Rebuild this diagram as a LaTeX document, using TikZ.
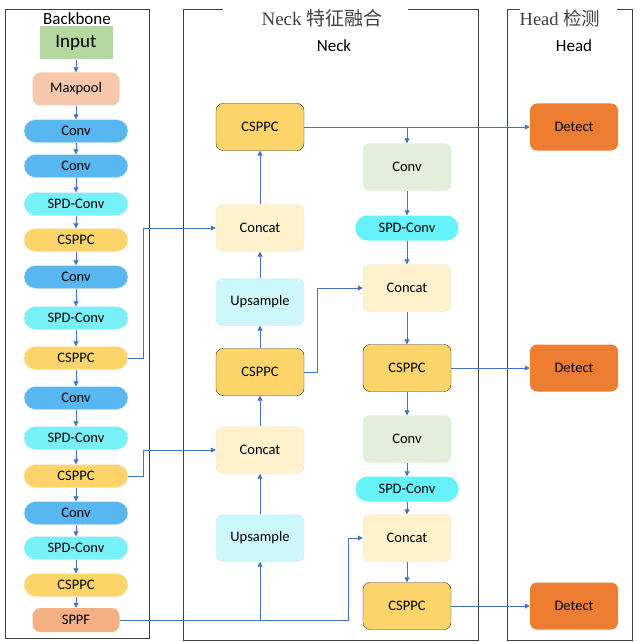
\documentclass[tikz,border=0pt]{standalone}
\usepackage{fontspec}
\setmainfont{Carlito}
\newfontfamily\titlefont{Liberation Serif}
\newfontfamily\cjk{Noto Sans CJK SC}
\definecolor{lnblue}{RGB}{68,114,196}
\definecolor{ingreen}{RGB}{181,215,160}
\definecolor{mpsalmon}{RGB}{247,200,170}
\definecolor{sppfsalmon}{RGB}{244,175,130}
\definecolor{cvblue}{RGB}{88,182,240}
\definecolor{spdcyan}{RGB}{120,240,248}
\definecolor{cspyellow}{RGB}{252,212,105}
\definecolor{ccream}{RGB}{255,242,204}
\definecolor{upcyan}{RGB}{204,248,252}
\definecolor{ncgreen}{RGB}{226,239,218}
\definecolor{detorange}{RGB}{237,125,49}
\usetikzlibrary{arrows.meta,positioning}

\begin{document}
\begin{tikzpicture}[x=1pt,y=-1pt,
  box/.style={inner sep=0pt,font=\fontsize{14.5}{16}\selectfont},
  pill/.style={box,rounded corners=11.5pt,minimum width=104pt,minimum height=23pt,draw=black!8},
  blk/.style={box,rounded corners=7pt,minimum width=88pt,minimum height=47pt},
  arr/.style={lnblue,line width=0.8pt,-{Triangle[length=5pt,width=5pt]}},
  frame/.style={draw=black!75,line width=0.9pt}]
  \useasboundingbox (0,0) rectangle (643,642);
  % frames and titles
  \draw[frame] (5,9) rectangle (149,638);
  \draw[frame] (223,9) -- (183,9) -- (183,640) -- (478,640) -- (478,9) -- (408,9);
  \draw[frame] (520,9) -- (507,9) -- (507,640) -- (632,640) -- (632,9) -- (617,9);
  \node[font=\fontsize{17}{19}\selectfont] (bbt) at (77,19) {Backbone};
  \node[font=\titlefont\fontsize{19}{21}\selectfont,text=black!75] (nkt) at (322,18) {Neck {\cjk 特征融合}};
  \node[font=\titlefont\fontsize{18.5}{20}\selectfont,text=black!75] (hdt) at (560,18) {Head {\cjk 检测}};
  \node[font=\fontsize{17}{19}\selectfont] (nks) at (334,46) {Neck};
  \node[font=\fontsize{17}{19}\selectfont] (hds) at (574,46) {Head};

  % backbone
  \node[box,fill=ingreen,minimum width=73pt,minimum height=33pt,font=\fontsize{19}{21}\selectfont] (in) at (76,43) {Input};
  \node[box,fill=mpsalmon,rounded corners=8pt,minimum width=87pt,minimum height=33pt] (mp) at (76,89) {Maxpool};
  \node[pill,fill=cvblue] (b1) at (76,131) {Conv};
  \node[pill,fill=cvblue] (b2) at (76,166) {Conv};
  \node[pill,fill=spdcyan] (b3) at (76,204) {SPD-Conv};
  \node[pill,fill=cspyellow] (b4) at (76,240) {CSPPC};
  \node[pill,fill=cvblue] (b5) at (76,277) {Conv};
  \node[pill,fill=spdcyan] (b6) at (76,318) {SPD-Conv};
  \node[pill,fill=cspyellow] (b7) at (76,358) {CSPPC};
  \node[pill,fill=cvblue] (b8) at (76,398) {Conv};
  \node[pill,fill=spdcyan] (b9) at (76,438) {SPD-Conv};
  \node[pill,fill=cspyellow] (b10) at (76,476) {CSPPC};
  \node[pill,fill=cvblue] (b11) at (76,513) {Conv};
  \node[pill,fill=spdcyan] (b12) at (76,548) {SPD-Conv};
  \node[pill,fill=cspyellow] (b13) at (76,585) {CSPPC};
  \node[box,fill=sppfsalmon,rounded corners=8pt,minimum width=87pt,minimum height=24pt] (sppf) at (76,620) {SPPF};
  \foreach \a/\b in {in/mp,mp/b1,b1/b2,b2/b3,b3/b4,b4/b5,b5/b6,b6/b7,b7/b8,b8/b9,b9/b10,b10/b11,b11/b12,b12/b13,b13/sppf}
    \draw[arr] (\a) -- (\b);

  % neck, upward path
  \node[blk,fill=cspyellow,draw=black!80] (lcs1) at (260,127) {CSPPC};
  \node[blk,fill=ccream,draw=black!10] (lcc1) at (260,228) {Concat};
  \node[blk,fill=upcyan,draw=black!10] (lup1) at (260,302) {Upsample};
  \node[blk,fill=cspyellow,draw=black!80] (lcs2) at (260,372) {CSPPC};
  \node[blk,fill=ccream,draw=black!10] (lcc2) at (260,450) {Concat};
  \node[blk,fill=upcyan,draw=black!10] (lup2) at (260,538) {Upsample};
  % neck, downward path
  \node[blk,fill=ncgreen,draw=black!10] (rcv1) at (407,167) {Conv};
  \node[box,fill=spdcyan!85!cyan,rounded corners=12pt,minimum width=103pt,minimum height=25pt] (rspd1) at (407,228) {SPD-Conv};
  \node[blk,fill=ccream,draw=black!10] (rcc1) at (407,288) {Concat};
  \node[blk,fill=cspyellow,draw=black!80] (rcs1) at (407,368) {CSPPC};
  \node[blk,fill=ncgreen,draw=black!10] (rcv2) at (407,439) {Conv};
  \node[box,fill=spdcyan!85!cyan,rounded corners=12pt,minimum width=103pt,minimum height=25pt] (rspd2) at (407,489) {SPD-Conv};
  \node[blk,fill=ccream,draw=black!10] (rcc2) at (407,538) {Concat};
  \node[blk,fill=cspyellow,draw=black!80] (rcs2) at (407,606) {CSPPC};
  % head
  \node[blk,fill=detorange] (d1) at (574,127) {Detect};
  \node[blk,fill=detorange] (d2) at (574,368) {Detect};
  \node[blk,fill=detorange] (d3) at (574,606) {Detect};

  \coordinate (j1) at (143,0);
  \coordinate (j2) at (317,0);
  \coordinate (j3) at (348,0);
  \draw[arr] (b7.east) -- (b7.east -| j1) |- (lcc1.west);
  \draw[arr] (b10.east) -- (b10.east -| j1) |- (lcc2.west);
  \draw[arr] (sppf.east) -- (sppf.east -| j3) |- (rcc2.west);
  \draw[arr] (sppf.east -| lup2) -- (lup2.south);
  \foreach \a/\b in {lup2/lcc2,lcc2/lcs2,lcs2/lup1,lup1/lcc1,lcc1/lcs1}
    \draw[arr] (\a) -- (\b);
  \draw[arr] (lcs2.east) -- (lcs2.east -| j2) |- (rcc1.west);
  \draw[arr] (lcs1) -- (d1);
  \draw[arr] (lcs1.east -| rcv1) -- (rcv1.north);
  \foreach \a/\b in {rcv1/rspd1,rspd1/rcc1,rcc1/rcs1,rcs1/rcv2,rcv2/rspd2,rspd2/rcc2,rcc2/rcs2}
    \draw[arr] (\a) -- (\b);
  \draw[arr] (rcs1) -- (d2);
  \draw[arr] (rcs2) -- (d3);
\end{tikzpicture}
\end{document}
